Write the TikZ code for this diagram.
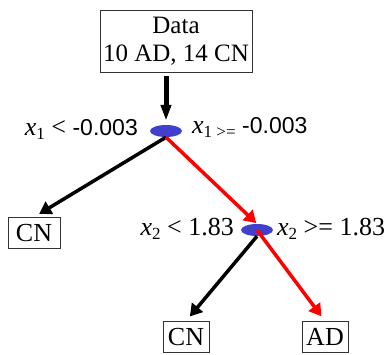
\documentclass[tikz,border=0pt]{standalone}
\usepackage{fontspec}
\setmainfont{Liberation Serif}
\setsansfont{Liberation Sans}
\usetikzlibrary{arrows.meta,shapes.geometric}
\definecolor{splitblue}{RGB}{64,64,204}
\newcommand{\sfnum}[1]{{\sffamily\fontsize{23}{26}\selectfont #1}}
\begin{document}
\begin{tikzpicture}[x=1pt,y=-1pt,font=\fontsize{26}{30}\selectfont,
  box/.style={draw=black!80,line width=0.9pt,inner sep=2pt},
  split/.style={ellipse,fill=splitblue,minimum width=32pt,minimum height=12pt,inner sep=0pt},
  lbl/.style={inner sep=0pt,font=\fontsize{26}{30}\selectfont},
  edge/.style={line width=3.5pt,-{Triangle[length=12pt,width=14pt]},shorten >=6pt}]
\useasboundingbox (0,0) rectangle (390,354);
\node[box,align=center,minimum width=152pt,minimum height=62pt,font=\fontsize{25}{28}\selectfont] (data) at (176,41) {Data\\10 AD, 14 CN};
\node[split] (s1) at (166,131) {};
\node[split] (s2) at (257,230) {};
\node[box,minimum width=52pt,minimum height=31pt] (cn1) at (34,233) {CN};
\node[box,minimum width=46pt,minimum height=31pt] (cn2) at (186,337) {CN};
\node[box,minimum width=46pt,minimum height=31pt] (ad) at (325,337) {AD};
\node[lbl,anchor=east] (l1) at (138,129) {\textit{x}\raisebox{-4pt}{\fontsize{17}{17}\selectfont 1} < \sfnum{-0.003}};
\node[lbl,anchor=west] (r1) at (192,127) {\textit{x}\raisebox{-4pt}{\fontsize{17}{17}\selectfont 1 >=} \sfnum{-0.003}};
\node[lbl,anchor=east] (l2) at (234,229) {\textit{x}\raisebox{-4pt}{\fontsize{17}{17}\selectfont 2} < 1.83};
\node[lbl,anchor=west] (r2) at (277,229) {\textit{x}\raisebox{-4pt}{\fontsize{17}{17}\selectfont 2} >= 1.83};
\draw[line width=5pt,-{Triangle[length=16pt,width=10pt]},shorten <=4pt,shorten >=4pt] (s1.north |- data.south) -- (s1.north);
\draw[edge] (s1.south) -- (cn1.north);
\draw[edge,red,shorten >=1pt] (s1.south) -- (s2.north);
\draw[edge] (s2.south) -- (cn2.north);
\draw[edge,red] (s2.center) -- (ad.north);
\end{tikzpicture}
\end{document}
